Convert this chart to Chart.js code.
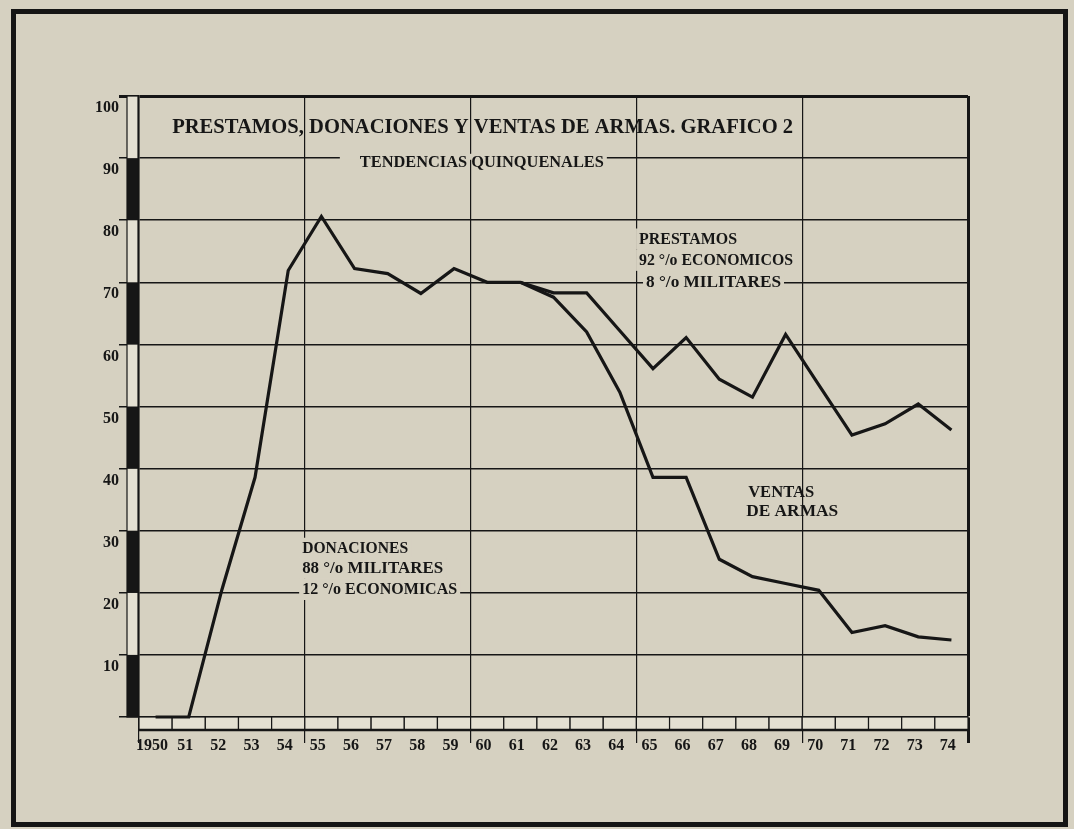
<!DOCTYPE html>
<html>
<head>
<meta charset="utf-8">
<script src="https://cdn.jsdelivr.net/npm/chart.js@4.4.1/dist/chart.umd.min.js"></script>
<style>
  html, body { margin: 0; padding: 0; background: #d6d1c1; }
  #wrap { position: relative; width: 1074px; height: 829px; overflow: hidden; }
  #chart { position: absolute; left: 0; top: 0; }
  #frame { position: absolute; left: 11px; top: 9px; width: 1047px; height: 808px; border: 5px solid #151515; pointer-events: none; }
</style>
</head>
<body>
<div id="wrap">
  <canvas id="chart" width="1074" height="829"></canvas>
  <div id="frame"></div>
</div>
<script>
const years = [1950, 1951, 1952, 1953, 1954, 1955, 1956, 1957, 1958, 1959,
	1960, 1961, 1962, 1963, 1964, 1965, 1966, 1967, 1968, 1969,
	1970, 1971, 1972, 1973, 1974];

// donaciones (rise to 1955) continuing as prestamos
const donacionesPrestamos = [0, 0, 20.5, 38.6, 71.9, 80.6, 72.2, 71.4, 68.2, 72.2,
	70, 70, 68.3, 68.3, 62.2, 56.1, 61.1, 54.4, 51.5, 61.6,
	53.5, 45.4, 47.2, 50.4, 46.2];

const ventasArmas = [null, null, null, null, null, null, null, null, null, null,
	null, 70, 67.6, 62, 52.3, 38.6, 38.6, 25.4, 22.6, 21.5,
	20.4, 13.6, 14.7, 12.9, 12.4];

const yMin = 0;
const yMax = 100;
const yStep = 10;

const INK = "#161616";
const PAPER = "#d6d1c1";
const LIGHT = "#e4e0d2";
const FONT = "'Liberation Serif', 'Times New Roman', serif";

// text placed in data units (x = year, y = value at baseline)
const notes = [
	{ text: "PRESTAMOS, DONACIONES Y VENTAS DE ARMAS. GRAFICO 2", x: 1951.0, y: 94.0, size: 21, width: 621 },
	{ text: "TENDENCIAS QUINQUENALES", x: 1956.66, y: 88.6, size: 16, width: 244, bg: "band", padL: 20 },
	{ text: "PRESTAMOS", x: 1965.08, y: 76.2, size: 17, width: 98, bg: "box" },
	{ text: "92 °/o ECONOMICOS", x: 1965.08, y: 72.8, size: 17, width: 154, bg: "box" },
	{ text: "8 °/o MILITARES", x: 1965.29, y: 69.2, size: 17, width: 135, bg: "box" },
	{ text: "VENTAS", x: 1968.37, y: 35.4, size: 17, width: 66 },
	{ text: "DE ARMAS", x: 1968.31, y: 32.4, size: 17, width: 92 },
	{ text: "DONACIONES", x: 1954.92, y: 26.4, size: 17, width: 106, bg: "box" },
	{ text: "88 °/o MILITARES", x: 1954.92, y: 23.2, size: 17, width: 141, bg: "box" },
	{ text: "12 °/o ECONOMICAS", x: 1954.92, y: 19.8, size: 17, width: 155, bg: "box" }
];

function toPoints(values) {
	// each year is drawn in the middle of its cell
	return years.map((yr, i) => ({ x: yr + 0.5, y: values[i] }));
}

const decorPlugin = {
	id: "decor",
	beforeDatasetsDraw(chart) {
		const { ctx, chartArea } = chart;
		const xs = chart.scales.x;
		const ys = chart.scales.y;
		ctx.save();

		// black / white scale bar along the y axis
		for (let v = yMin; v < yMax; v += yStep) {
			const y1 = ys.getPixelForValue(v + yStep);
			const y2 = ys.getPixelForValue(v);
			ctx.fillStyle = (v / yStep) % 2 === 0 ? INK : LIGHT;
			ctx.fillRect(chartArea.left - 12, y1, 11, y2 - y1);
		}
		ctx.strokeStyle = INK;
		ctx.lineWidth = 1.2;
		ctx.strokeRect(chartArea.left - 12, ys.getPixelForValue(yMax), 11, ys.getPixelForValue(yMin) - ys.getPixelForValue(yMax));

		// strip of year cells under the x axis
		const top = chartArea.bottom;
		const h = 13;
		for (let i = 0; i < years.length; i++) {
			const x1 = xs.getPixelForValue(years[i]);
			const x2 = xs.getPixelForValue(years[i] + 1);
			ctx.fillStyle = LIGHT;
			ctx.fillRect(x1, top, x2 - x1, h);
			ctx.strokeRect(x1, top, x2 - x1, h);
		}
		ctx.lineWidth = 2.5;
		ctx.beginPath();
		ctx.moveTo(xs.getPixelForValue(years[0]), top + h);
		ctx.lineTo(xs.getPixelForValue(years[years.length - 1] + 1), top + h);
		ctx.stroke();
		ctx.restore();
	},
	afterDraw(chart) {
		const { ctx } = chart;
		const xs = chart.scales.x;
		const ys = chart.scales.y;
		ctx.save();
		for (const n of notes) {
			ctx.font = `bold ${n.size}px ${FONT}`;
			const natural = ctx.measureText(n.text).width;
			const sx = n.width / natural;
			const x = xs.getPixelForValue(n.x);
			const y = ys.getPixelForValue(n.y);
			const padL = n.padL || 3;
			ctx.fillStyle = PAPER;
			if (n.bg === "box") {
				ctx.fillRect(x - padL, y - n.size * 0.9, n.width + padL + 3, n.size * 1.25);
			} else if (n.bg === "band") {
				// only break the grid line running behind the text
				ctx.fillRect(x - padL, y - 13, n.width + padL + 3, 6);
			}
			ctx.fillStyle = INK;
			ctx.textBaseline = "alphabetic";
			ctx.textAlign = "left";
			ctx.save();
			ctx.translate(x, y);
			ctx.scale(sx, 1);
			ctx.fillText(n.text, 0, 0);
			ctx.restore();
		}
		ctx.restore();
	}
};

const lineStyle = {
	borderColor: INK,
	borderWidth: 3.2,
	pointRadius: 0,
	tension: 0,
	fill: false,
	clip: false,
	spanGaps: false
};

new Chart(document.getElementById("chart"), {
	type: "line",
	data: {
		datasets: [
			{ label: "Donaciones / Prestamos", data: toPoints(donacionesPrestamos), ...lineStyle },
			{ label: "Ventas de armas", data: toPoints(ventasArmas), ...lineStyle }
		]
	},
	options: {
		responsive: false,
		animation: false,
		devicePixelRatio: 1,
		layout: { padding: { left: 79, right: 106, top: 96, bottom: 0 } },
		plugins: { legend: { display: false }, tooltip: { enabled: false }, title: { display: false } },
		scales: {
			x: {
				type: "linear",
				min: 1950,
				max: 1975,
				afterFit(scale) { scale.height = 112; },
				border: { display: true, color: INK, width: 1.5 },
				grid: {
					color: (c) => (c.tick && c.tick.value % 5 === 0 ? INK : "rgba(0,0,0,0)"),
					lineWidth: (c) => (c.tick && c.tick.value === 1975 ? 3 : 1.2),
					tickLength: 26,
					drawOnChartArea: true
				},
				ticks: {
					stepSize: 1,
					autoSkip: false,
					maxRotation: 0,
					padding: -7,
					labelOffset: 13,
					color: INK,
					font: { family: FONT, size: 16, weight: "bold" },
					callback: (v) => (v === 1950 ? "1950" : v < 1975 ? String(v).slice(2) : "")
				}
			},
			y: {
				min: yMin,
				max: yMax,
				afterFit(scale) { scale.width = 60; },
				border: { display: true, color: INK, width: 1.5 },
				grid: {
					color: INK,
					lineWidth: (c) => (c.tick && c.tick.value === yMax ? 3 : 1.5),
					tickLength: 20
				},
				ticks: {
					stepSize: yStep,
					padding: 0,
					labelOffset: 12,
					color: INK,
					font: { family: FONT, size: 16, weight: "bold" },
					callback: (v) => (v === yMin ? "" : String(v))
				}
			}
		}
	},
	plugins: [decorPlugin]
});
</script>
</body>
</html>
